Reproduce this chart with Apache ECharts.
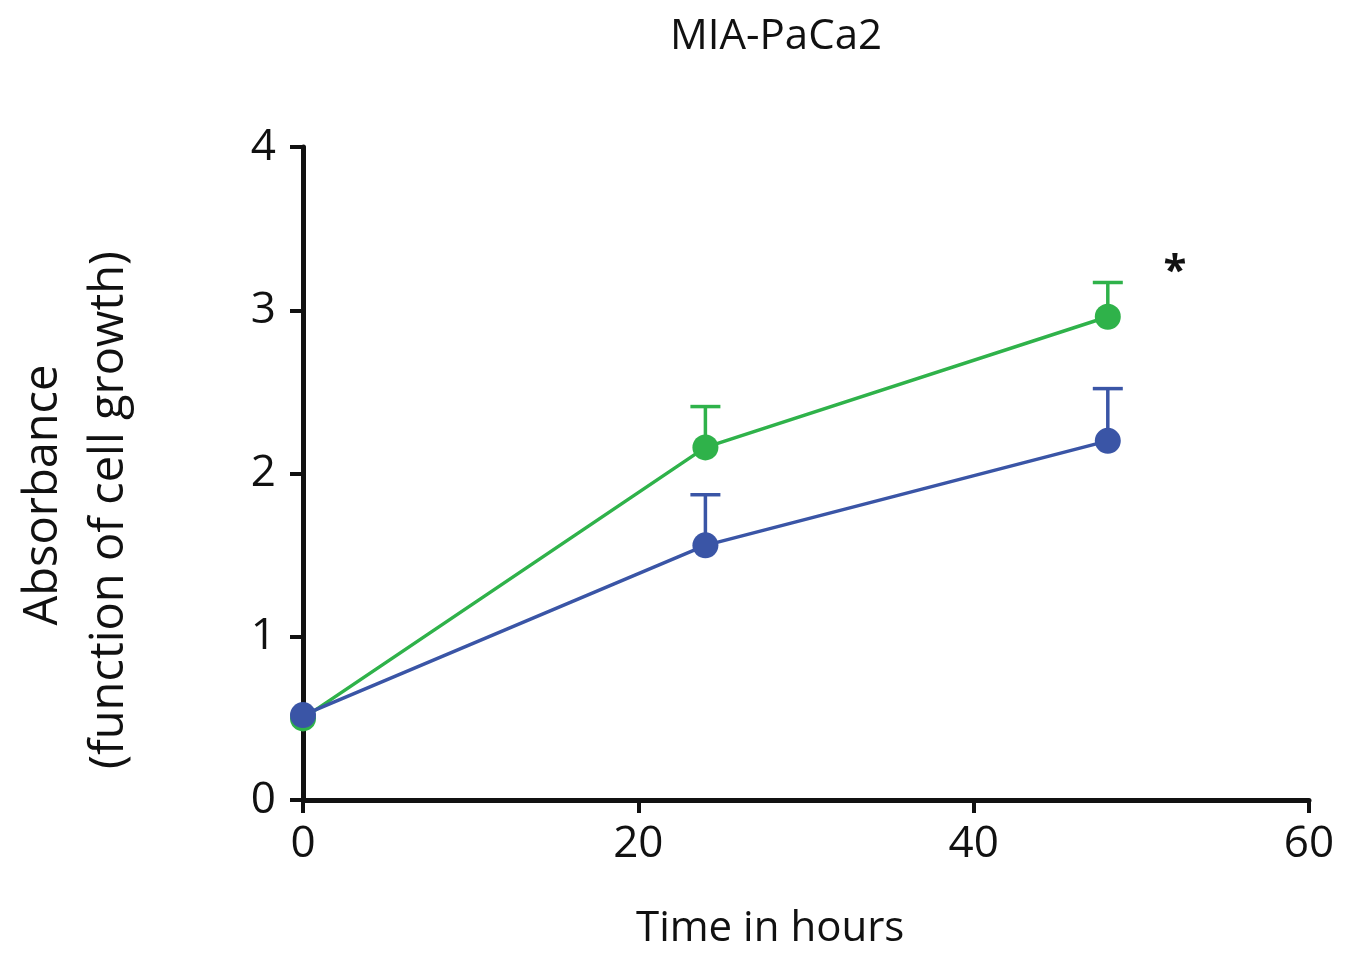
<!DOCTYPE html>
<html>
<head>
<meta charset="utf-8">
<script src="https://cdn.jsdelivr.net/npm/echarts@6/dist/echarts.min.js"></script>
<style>html,body{margin:0;padding:0;background:#fff;}#main{width:1345px;height:957px;}</style>
</head>
<body>
<div id="main"></div>
<script>
const times = [0, 24, 48];
const greenMean = [0.50, 2.16, 2.96];
const greenSD = [0, 0.25, 0.21];
const blueMean = [0.52, 1.56, 2.20];
const blueSD = [0, 0.31, 0.32];
const xTicks = [0, 20, 40, 60];
const yTicks = [0, 1, 2, 3, 4];
const titleText = 'MIA-PaCa2';
const xName = 'Time in hours';
const yName1 = 'Absorbance';
const yName2 = '(function of cell growth)';
const sigMark = '*';

const GREEN = '#2fb24a';
const BLUE = '#3a55a6';
const FONT = '"Open Sans", "Noto Sans", sans-serif';

function pts(mean) { return times.map((t, i) => [t, mean[i]]); }
function errs(mean, sd) { return times.map((t, i) => [t, mean[i], mean[i] + sd[i]]).filter((d, i) => sd[i] > 0); }

function errRender(color) {
  return function (params, api) {
    const base = api.coord([api.value(0), api.value(1)]);
    const top = api.coord([api.value(0), api.value(2)]);
    const half = 15;
    const style = { stroke: color, lineWidth: 3.5, fill: null };
    return {
      type: 'group',
      children: [
        { type: 'line', shape: { x1: base[0], y1: base[1], x2: top[0], y2: top[1] }, style: style },
        { type: 'line', shape: { x1: top[0] - half, y1: top[1], x2: top[0] + half, y2: top[1] }, style: style }
      ]
    };
  };
}

const chart = echarts.init(document.getElementById('main'), null, { renderer: 'canvas' });
chart.setOption({
  backgroundColor: '#ffffff',
  animation: false,
  title: {
    text: titleText, left: 771, top: 11, textAlign: 'center',
    textStyle: { fontFamily: FONT, fontSize: 42, fontWeight: 'normal', color: '#111' }
  },
  grid: { left: 303, right: 36, top: 147, bottom: 157, containLabel: false },
  xAxis: {
    type: 'value', min: xTicks[0], max: xTicks[xTicks.length - 1], interval: 20,
    axisLine: { show: true, onZero: false, lineStyle: { color: '#111', width: 5 } },
    axisTick: { show: true, length: 13, lineStyle: { color: '#111', width: 4 } },
    axisLabel: { margin: 22, fontFamily: FONT, fontSize: 44, color: '#111' },
    splitLine: { show: false }
  },
  yAxis: {
    type: 'value', min: yTicks[0], max: yTicks[yTicks.length - 1], interval: 1,
    axisLine: { show: true, lineStyle: { color: '#111', width: 5 } },
    axisTick: { show: true, length: 13, lineStyle: { color: '#111', width: 4 } },
    axisLabel: { margin: 27, fontFamily: FONT, fontSize: 44, color: '#111' },
    splitLine: { show: false }
  },
  graphic: [
    { type: 'text', left: 636, top: 908, style: { text: xName, font: '42px ' + FONT, fill: '#111' } },
    { type: 'text', x: 44, y: 495, rotation: Math.PI / 2, style: { text: yName1, font: '47px ' + FONT, fill: '#111', align: 'center', verticalAlign: 'middle' } },
    { type: 'text', x: 110, y: 510, rotation: Math.PI / 2, style: { text: yName2, font: '47px ' + FONT, fill: '#111', align: 'center', verticalAlign: 'middle' } },
    { type: 'text', x: 1175, y: 272, style: { text: sigMark, font: 'bold 42px ' + FONT, fill: '#111', align: 'center', verticalAlign: 'middle' } }
  ],
  series: [
    { type: 'custom', renderItem: errRender(GREEN), data: errs(greenMean, greenSD), z: 1, silent: true },
    { type: 'custom', renderItem: errRender(BLUE), data: errs(blueMean, blueSD), z: 1, silent: true },
    {
      type: 'line', data: pts(greenMean), z: 3,
      lineStyle: { color: GREEN, width: 3.5 }, itemStyle: { color: GREEN },
      symbol: 'circle', symbolSize: 26, showSymbol: true
    },
    {
      type: 'line', data: pts(blueMean), z: 4,
      lineStyle: { color: BLUE, width: 3.5 }, itemStyle: { color: BLUE },
      symbol: 'circle', symbolSize: 26, showSymbol: true
    }
  ]
});
</script>
</body>
</html>
